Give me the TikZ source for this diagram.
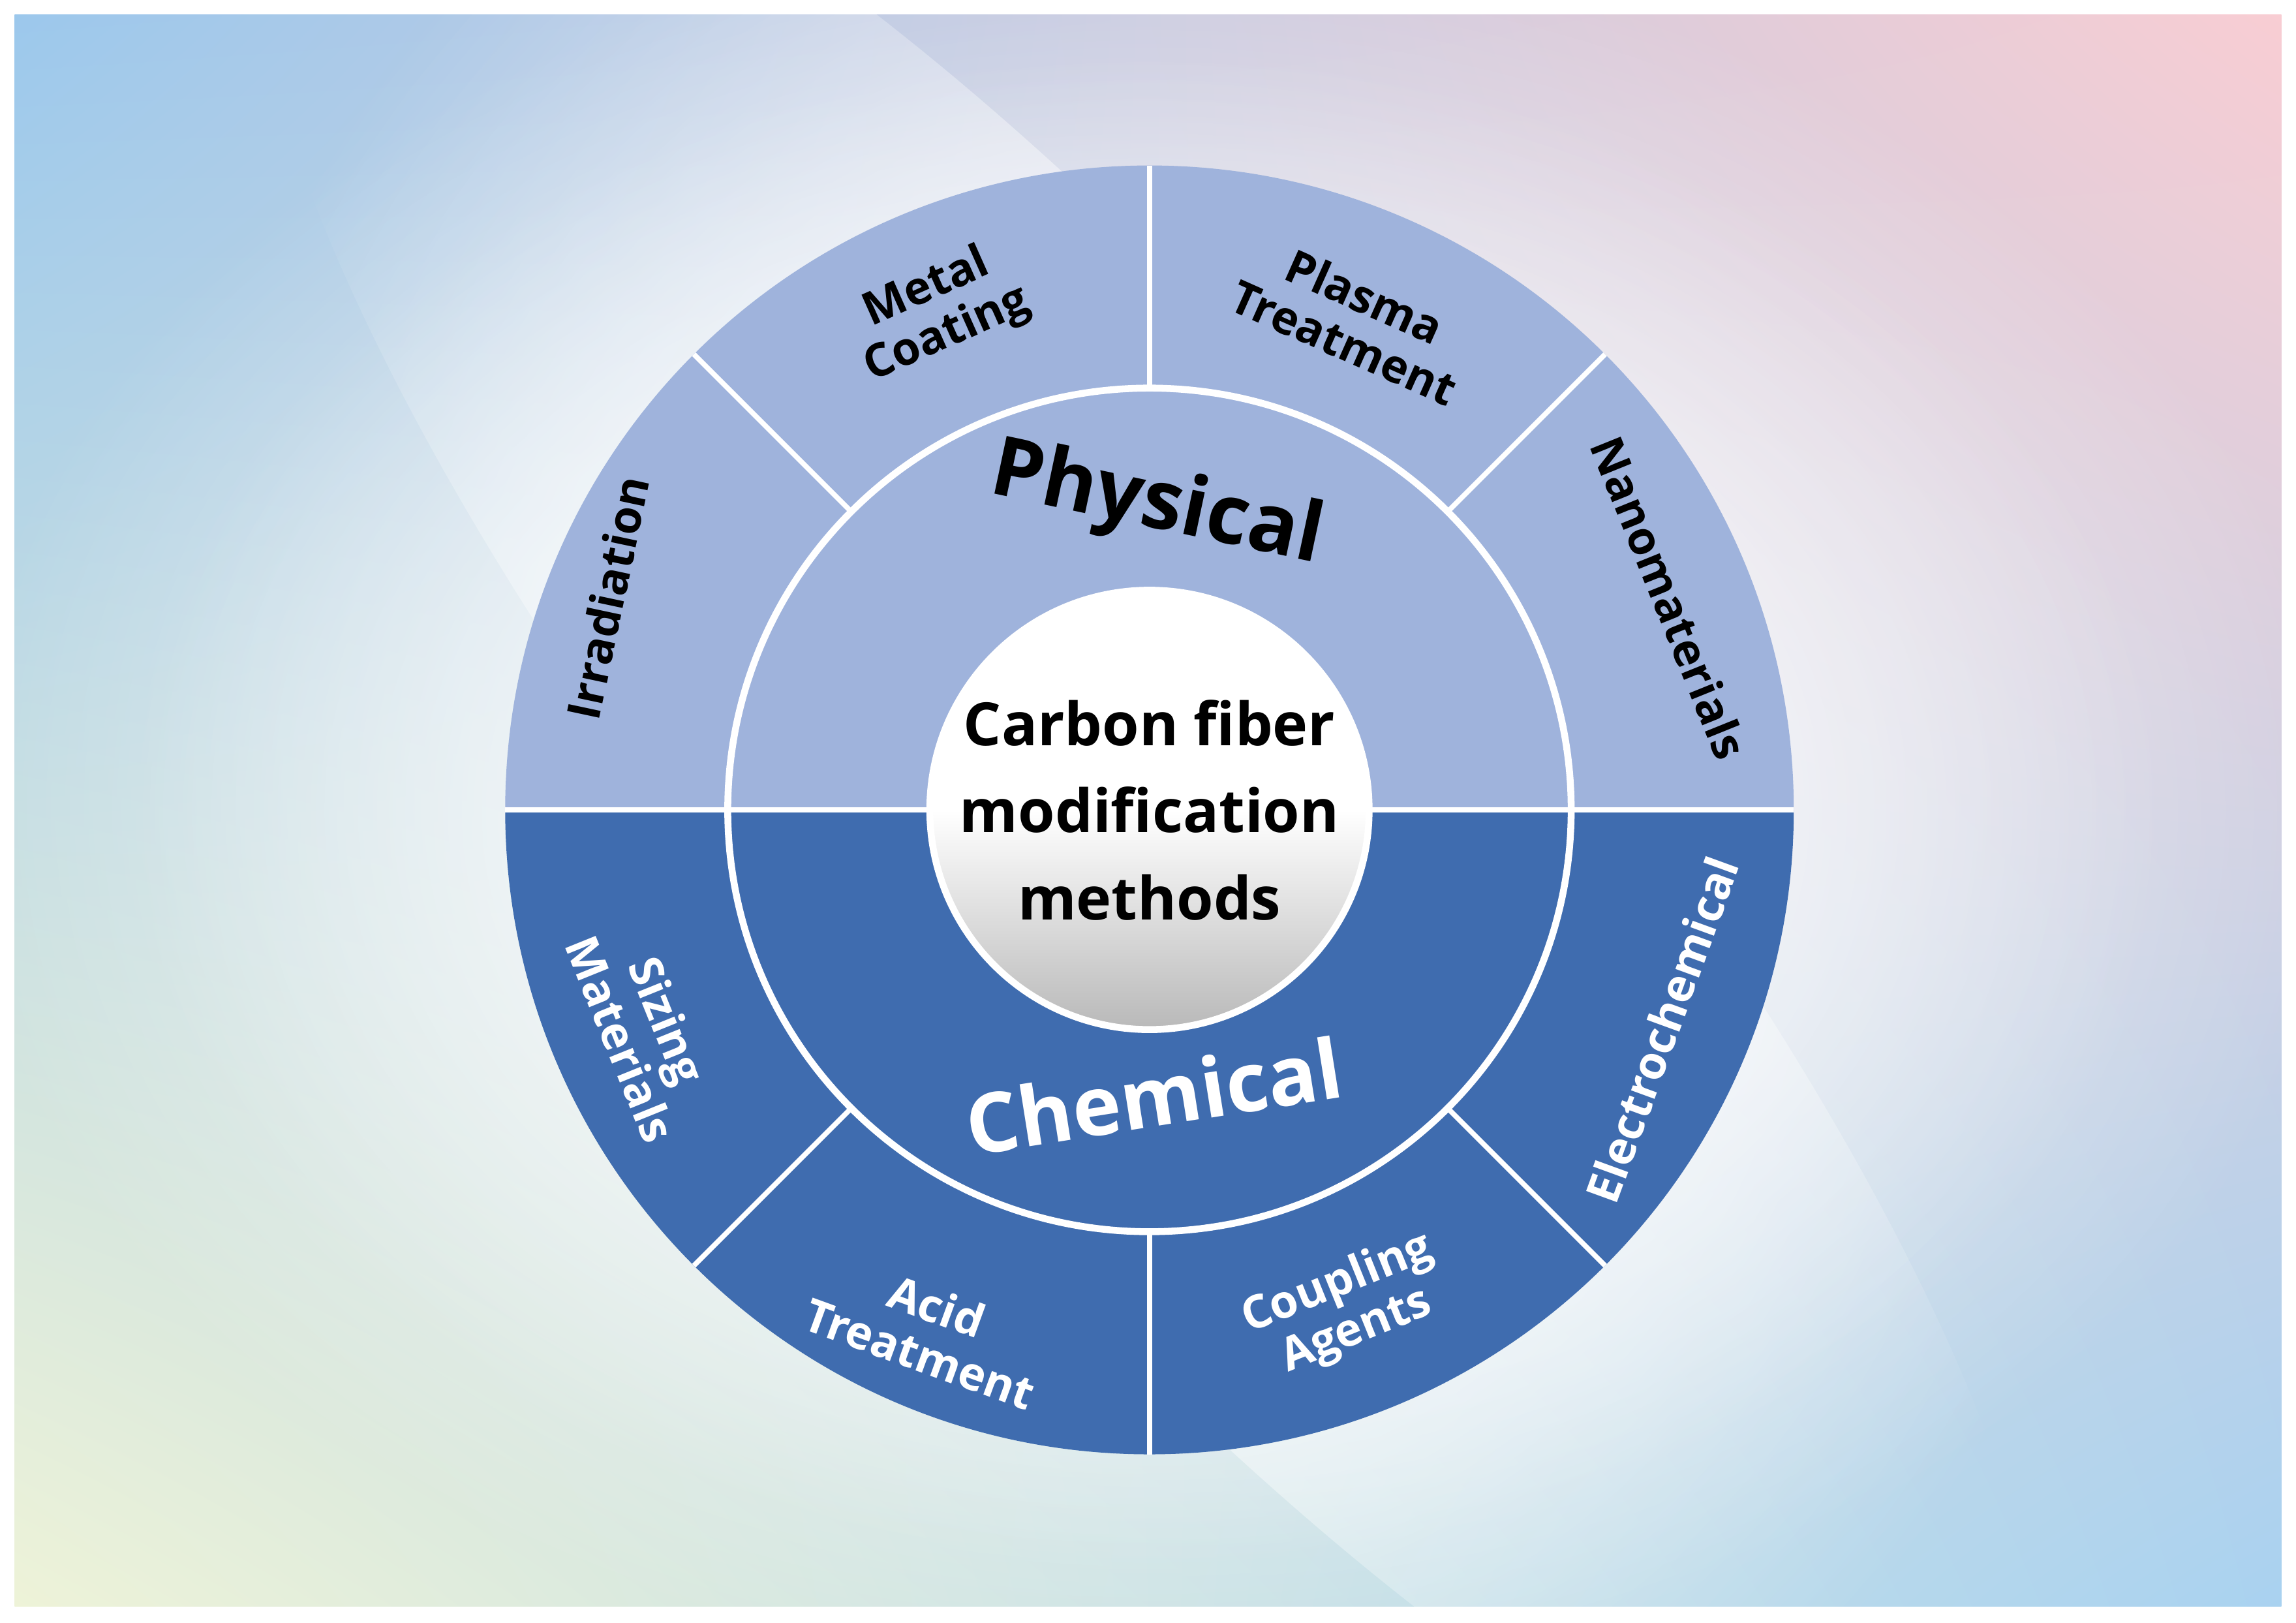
\documentclass[tikz,border=0pt]{standalone}
\usepackage{fontspec}
\setmainfont{Open Sans}
\usetikzlibrary{fadings,shadings}
\tikzfading[name=fadeout, inner color=transparent!0, outer color=transparent!100]
\definecolor{phys}{HTML}{9FB3DC}
\definecolor{chem}{HTML}{3F6CAF}
\definecolor{bgblue}{HTML}{9CC8EC}
\definecolor{bgpink}{HTML}{F8CDD3}
\definecolor{bgyel}{HTML}{EEF3D8}
\definecolor{bgblue2}{HTML}{A9D2F0}
\begin{document}
\begin{tikzpicture}[x=0.02244cm,y=0.02244cm,
  sep/.style={white,line width=2.2pt},
  outl/.style={font=\bfseries\fontsize{20}{22}\selectfont,align=center,inner sep=0},
  dk/.style={outl,text=black},
  lt/.style={outl,text=white}]
\useasboundingbox (0,0) rectangle (1568,1108);
\fill[white] (0,0) rectangle (1568,1108);
\shade[upper left=bgblue,upper right=bgpink,lower left=bgyel,lower right=bgblue2] (10,11) rectangle (1558,1098);
\fill[white,path fading=fadeout] (785,555) ellipse (820 and 600);
\fill[white,path fading=fadeout] (785,555) ellipse (700 and 520);
\fill[white,path fading=fadeout,rotate around={40:(785,555)}] (785,555) ellipse (260 and 900);
% physical / chemical halves
\coordinate (c) at (785,555);
\fill[phys] (c) ++(0:440) arc (0:180:440) -- cycle;
\fill[chem] (c) ++(180:440) arc (180:360:440) -- cycle;
% outer separators
\foreach \a in {45,90,135,225,270,315}
  \draw[sep] (c) ++(\a:288) -- ++(\a:152);
\draw[sep] (c) ++(180:440) -- ++(0:880);
% inner ring
\draw[white,line width=3pt] (c) circle (288);
% centre
\shade[top color=white,bottom color=gray!55,middle color=white] (c) circle (150);
\draw[white,line width=3pt] (c) circle (150);
\node (ctr) at (785,555) [font=\bfseries\fontsize{26}{38}\selectfont,align=center] {Carbon fiber\\modification\\methods};
\node (phy) at (790,762) [rotate=-12,font=\bfseries\fontsize{36}{40}\selectfont] {Physical};
\node (che) at (788,360) [rotate=9,font=\bfseries\fontsize{36}{40}\selectfont,text=white] {Chemical};
% outer labels
\node[dk,rotate=24] (mc) at (640,895) {Metal\\Coating};
\node[dk,rotate=-24] (pt) at (925,890) {Plasma\\Treatment};
\node[dk,rotate=78] (ir) at (415,700) {Irradiation};
\node[dk,rotate=-68] (nm) at (1140,700) {Nanomaterials};
\node[lt,rotate=-68] (sm) at (440,405) {Sizing\\Materials};
\node[lt,rotate=-20] (at) at (634,200) {Acid\\Treatment};
\node[lt,rotate=22] (ca) at (920,215) {Coupling\\Agents};
\node[lt,rotate=70] (ec) at (1135,405) {Electrochemical};
\end{tikzpicture}
\end{document}
